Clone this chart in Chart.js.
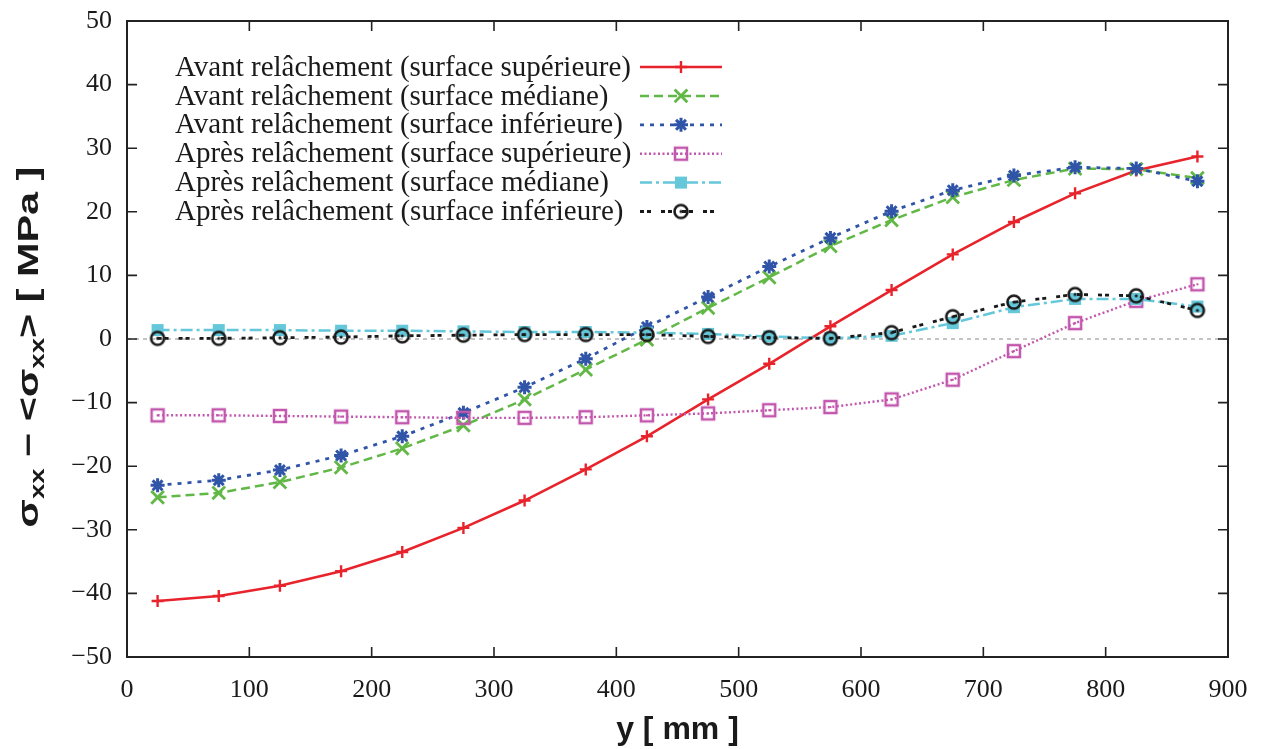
<!DOCTYPE html>
<html>
<head>
<meta charset="utf-8">
<script src="https://cdn.jsdelivr.net/npm/chart.js@4/dist/chart.umd.min.js"></script>
<style>
  html, body { margin: 0; padding: 0; background: #ffffff; }
  #wrap { width: 1265px; height: 749px; }
</style>
</head>
<body>
<div id="wrap"><canvas id="c" width="1265" height="749"></canvas></div>
<script>
// ---------- data ----------
const yPositions = [25, 75, 125, 175, 225, 275, 325, 375, 425, 475, 525, 575, 625, 675, 725, 775, 825, 875];

const avantSuperieure = [-41.2, -40.4, -38.8, -36.5, -33.5, -29.7, -25.4, -20.5, -15.3, -9.5, -3.9, 2.0, 7.7, 13.3, 18.4, 22.9, 26.5, 28.7];
const avantMediane    = [-24.9, -24.2, -22.5, -20.2, -17.2, -13.6, -9.5, -4.8, -0.1, 4.9, 9.7, 14.6, 18.7, 22.3, 25.0, 26.8, 26.7, 25.3];
const avantInferieure = [-23.0, -22.2, -20.6, -18.3, -15.3, -11.6, -7.6, -3.1, 1.9, 6.6, 11.4, 15.9, 20.1, 23.4, 25.7, 27.0, 26.8, 24.8];
const apresSuperieure = [-12.0, -12.0, -12.1, -12.2, -12.3, -12.4, -12.4, -12.3, -12.0, -11.7, -11.2, -10.7, -9.5, -6.4, -1.9, 2.5, 6.0, 8.6];
const apresMediane    = [1.4, 1.4, 1.4, 1.3, 1.3, 1.2, 1.1, 1.1, 1.0, 0.8, 0.4, 0.1, 0.5, 2.5, 5.0, 6.3, 6.3, 5.1];
const apresInferieure = [0.1, 0.1, 0.2, 0.3, 0.5, 0.6, 0.7, 0.7, 0.7, 0.4, 0.2, 0.1, 1.0, 3.5, 5.8, 7.0, 6.8, 4.5];

const seriesLabels = [
  "Avant relâchement (surface supérieure)",
  "Avant relâchement (surface médiane)",
  "Avant relâchement (surface inférieure)",
  "Après relâchement (surface supérieure)",
  "Après relâchement (surface médiane)",
  "Après relâchement (surface inférieure)"
];

const xTickMin = 0, xTickMax = 900, xTickStep = 100;
const yTickMin = -50, yTickMax = 50, yTickStep = 10;
const xAxisTitle = "y [ mm ]";
const yAxisTitleParts = [["σ", 0], ["xx", 1], [" − <", 0], ["σ", 0], ["xx", 1], ["> [ MPa ]", 0]];

// ---------- custom markers ----------
function circleDotMarker(color) {
  const c = document.createElement('canvas');
  c.width = 20; c.height = 20;
  const g = c.getContext('2d');
  g.strokeStyle = color; g.lineWidth = 2.6;
  g.beginPath(); g.arc(10, 10, 6.5, 0, Math.PI * 2); g.stroke();
  g.fillStyle = color;
  g.beginPath(); g.arc(10, 10, 1.6, 0, Math.PI * 2); g.fill();
  return c;
}
function squareDotMarker(color) {
  const c = document.createElement('canvas');
  c.width = 18; c.height = 18;
  const g = c.getContext('2d');
  g.strokeStyle = color; g.lineWidth = 2.5;
  g.strokeRect(3, 3, 12, 12);
  g.fillStyle = color;
  g.fillRect(8, 8, 2, 2);
  return c;
}

function pts(arr) { return arr.map((v, i) => ({ x: yPositions[i], y: v })); }

const styles = [
  { color: '#e8232b', dash: [], width: 2.6, point: 'cross', radius: 6, pbw: 2.4, bg: '#e8232b' },
  { color: '#62b846', dash: [9, 5], width: 2.5, point: 'crossRot', radius: 9, pbw: 2.8, bg: '#62b846' },
  { color: '#2f54a8', dash: [4, 6], width: 2.8, point: 'star', radius: 7, pbw: 3, bg: '#2f54a8' },
  { color: '#c257ad', dash: [2, 2.5], width: 2.4, point: squareDotMarker('#c257ad'), radius: 9, pbw: 0, bg: 'rgba(0,0,0,0)' },
  { color: '#64c8da', dash: [12, 4, 3, 4], width: 2.5, point: 'rect', radius: 8.5, pbw: 0, bg: '#64c8da' },
  { color: '#1a1a1a', dash: [4, 3, 4, 10], width: 2.8, point: circleDotMarker('#1a1a1a'), radius: 8, pbw: 0, bg: 'rgba(0,0,0,0)' }
];
const seriesData = [avantSuperieure, avantMediane, avantInferieure, apresSuperieure, apresMediane, apresInferieure];

const datasets = seriesData.map((arr, i) => ({
  label: seriesLabels[i],
  data: pts(arr),
  borderColor: styles[i].color,
  backgroundColor: styles[i].bg,
  borderDash: styles[i].dash,
  borderWidth: styles[i].width,
  pointStyle: styles[i].point,
  pointRadius: styles[i].radius,
  pointHoverRadius: styles[i].radius,
  pointBorderWidth: styles[i].pbw,
  pointBorderColor: styles[i].color,
  pointBackgroundColor: styles[i].bg,
  tension: 0,
  fill: false,
  order: 6 - i
}));

// ---------- plugins ----------
const framePlugin = {
  id: 'frame',
  beforeDatasetsDraw(chart) {
    const { ctx, chartArea: a, scales: { y } } = chart;
    const y0 = y.getPixelForValue(0);
    ctx.save();
    ctx.strokeStyle = '#8a8a8a';
    ctx.lineWidth = 1;
    ctx.setLineDash([4, 4]);
    ctx.beginPath(); ctx.moveTo(a.left, y0); ctx.lineTo(a.right, y0); ctx.stroke();
    ctx.restore();
  },
  afterDatasetsDraw(chart) {
    const { ctx, chartArea: a, scales: { x, y } } = chart;
    ctx.save();
    ctx.strokeStyle = '#222';
    ctx.lineWidth = 2;
    ctx.setLineDash([]);
    ctx.strokeRect(a.left, a.top, a.right - a.left, a.bottom - a.top);
    const tl = 10;
    ctx.lineWidth = 1.6;
    ctx.beginPath();
    x.ticks.forEach(t => {
      const px = x.getPixelForValue(t.value);
      if (t.value > xTickMin && t.value < xTickMax) {
        ctx.moveTo(px, a.bottom); ctx.lineTo(px, a.bottom - tl);
        ctx.moveTo(px, a.top); ctx.lineTo(px, a.top + tl);
      }
    });
    y.ticks.forEach(t => {
      const py = y.getPixelForValue(t.value);
      if (t.value > yTickMin && t.value < yTickMax) {
        ctx.moveTo(a.left, py); ctx.lineTo(a.left + tl, py);
        ctx.moveTo(a.right, py); ctx.lineTo(a.right - tl, py);
      }
    });
    ctx.stroke();
    ctx.restore();
  },
  afterDraw(chart) {
    const { ctx, chartArea: a } = chart;
    ctx.save();
    const x0 = 175, lineStart = 640, lineEnd = 722, y0 = 67, dy = 28.9;
    ctx.font = '29px "Liberation Serif", "Times New Roman", serif';
    ctx.textAlign = 'left';
    ctx.textBaseline = 'middle';
    chart.data.datasets.forEach((ds, i) => {
      const yy = y0 + i * dy;
      ctx.fillStyle = '#1a1a1a';
      ctx.fillText(ds.label, x0, yy + 1);
      ctx.save();
      ctx.strokeStyle = ds.borderColor;
      ctx.lineWidth = ds.borderWidth;
      ctx.setLineDash(ds.borderDash);
      ctx.beginPath(); ctx.moveTo(lineStart, yy); ctx.lineTo(lineEnd, yy); ctx.stroke();
      ctx.setLineDash([]);
      ctx.strokeStyle = ds.pointBorderColor;
      ctx.fillStyle = ds.pointBackgroundColor;
      ctx.lineWidth = ds.pointBorderWidth;
      const mx = (lineStart + lineEnd) / 2;
      if (Chart.helpers && Chart.helpers.drawPoint) {
        Chart.helpers.drawPoint(ctx, { pointStyle: ds.pointStyle, rotation: 0, radius: ds.pointRadius, borderWidth: ds.pointBorderWidth }, mx, yy);
      }
      ctx.restore();
    });
    // y-axis title with subscripts
    const main = 'bold 30px "Liberation Sans", Arial, sans-serif';
    const sub = 'bold 20px "Liberation Sans", Arial, sans-serif';
    const stretch = 1.38;
    let total = 0;
    yAxisTitleParts.forEach(([t, s]) => { ctx.font = s ? sub : main; total += ctx.measureText(t).width; });
    ctx.translate(28, (a.top + a.bottom) / 2 + 8);
    ctx.rotate(-Math.PI / 2);
    ctx.scale(stretch, 1);
    ctx.textAlign = 'left';
    ctx.textBaseline = 'alphabetic';
    ctx.fillStyle = '#1a1a1a';
    let cx = -total / 2;
    yAxisTitleParts.forEach(([t, s]) => {
      ctx.font = s ? sub : main;
      ctx.fillText(t, cx, s ? 16 : 10);
      cx += ctx.measureText(t).width;
    });
    ctx.restore();
  }
};

const tickFont = { family: '"Liberation Serif", "Times New Roman", serif', size: 26 };

new Chart(document.getElementById('c'), {
  type: 'line',
  data: { datasets },
  options: {
    responsive: false,
    devicePixelRatio: 1,
    animation: false,
    layout: { padding: { left: 0, right: 37, top: 21, bottom: 0 } },
    plugins: { legend: { display: false }, title: { display: false }, tooltip: { enabled: false } },
    scales: {
      x: {
        type: 'linear',
        min: xTickMin, max: xTickMax,
        grid: { display: false, drawTicks: false },
        border: { display: false },
        ticks: { stepSize: xTickStep, font: tickFont, color: '#1a1a1a', padding: 18, maxRotation: 0 },
        title: { display: true, text: xAxisTitle, color: '#1a1a1a', font: { family: '"Liberation Sans", Arial, sans-serif', size: 32, weight: 'bold' }, padding: { top: 0, bottom: 0 } },
        afterFit(s) { s.height = 92; s.paddingLeft = 0; s.paddingRight = 0; }
      },
      y: {
        type: 'linear',
        min: yTickMin, max: yTickMax,
        grid: { display: false, drawTicks: false },
        border: { display: false },
        ticks: { stepSize: yTickStep, font: tickFont, color: '#1a1a1a', padding: 15,
          callback: v => String(v).replace('-', '\u2212') },
        afterFit(s) { s.width = 127; s.paddingTop = 0; s.paddingBottom = 0; }
      }
    }
  },
  plugins: [framePlugin]
});
</script>
</body>
</html>
